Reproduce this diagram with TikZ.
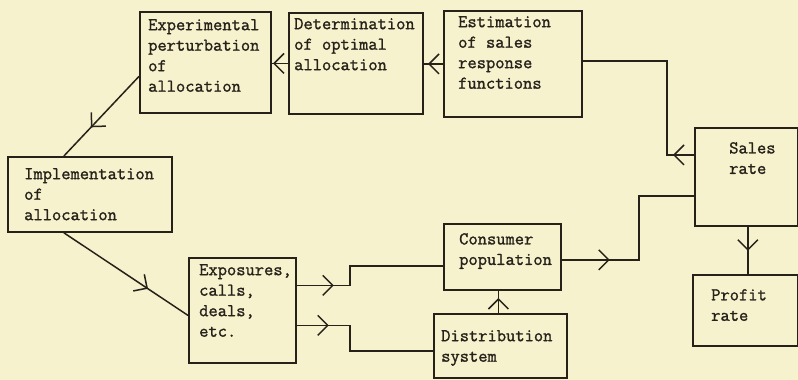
\documentclass[tikz,border=0pt]{standalone}
\usepackage{fontspec}
\newfontfamily\typewr{Latin Modern Mono}[FakeBold=1.4]
\usetikzlibrary{arrows.meta,positioning,decorations.markings}
\definecolor{paper}{RGB}{246,242,206}
\definecolor{ink}{RGB}{38,34,26}
\begin{document}
\begin{tikzpicture}[
    x=1pt, y=-1pt,
    box/.style={draw=ink, line width=1.8pt, anchor=north west, inner sep=0pt},
    txt/.style={anchor=north west, align=left, inner sep=0pt, text=ink, font=\typewr\fontsize{18}{20.5}\selectfont},
    link/.style={draw=ink, line width=1.5pt, postaction={decorate, decoration={markings,
        mark=at position #1 with {\arrow{Straight Barb[length=10pt, width=20pt, line width=1.5pt]}}}}}
]
\useasboundingbox[fill=paper] (0,0) rectangle (798,380);
\node[box, minimum width=131pt, minimum height=101pt] (exper) at (139,11) {};
\node[box, minimum width=134pt, minimum height=101pt] (det) at (288,12) {};
\node[box, minimum width=138pt, minimum height=106pt] (est) at (443,10) {};
\node[box, minimum width=103pt, minimum height=98pt] (sales) at (694,127) {};
\node[box, minimum width=105pt, minimum height=71pt] (profit) at (692,274) {};
\node[box, minimum width=164pt, minimum height=75pt] (impl) at (7,156) {};
\node[box, minimum width=107pt, minimum height=105pt] (expo) at (188,257) {};
\node[box, minimum width=117pt, minimum height=66pt] (cons) at (443,223) {};
\node[box, minimum width=133pt, minimum height=64pt] (dist) at (433,313) {};
\node[txt, below right=8pt and 9pt of exper.north west] (exper-t) {Experimental\\perturbation\\of\\allocation};
\node[txt, below right=6pt and 6pt of det.north west] (det-t) {Determination\\of optimal\\allocation};
\node[txt, below right=6pt and 15pt of est.north west] (est-t) {Estimation\\of sales\\response\\functions};
\node[txt, below right=15pt and 35pt of sales.north west] (sales-t) {Sales\\rate};
\node[txt, below right=15pt and 19pt of profit.north west] (profit-t) {Profit\\rate};
\node[txt, below right=12pt and 17pt of impl.north west] (impl-t) {Implementation\\of\\allocation};
\node[txt, below right=7pt and 11pt of expo.north west] (expo-t) {Exposures,\\calls,\\deals,\\etc.};
\node[txt, below right=10pt and 16pt of cons.north west] (cons-t) {Consumer\\population};
\node[txt, below right=17pt and 8pt of dist.north west] (dist-t) {Distribution\\system};
\draw[link=15pt] (det.west) -- (det.west -| exper.east);
\draw[link=15pt] (est.west) -- (est.west -| det.east);
\draw[link=21pt] ([yshift=22pt]sales.west) -- ++(-27,0) |- ([yshift=3pt]est.east);
\draw[link=70pt] ([yshift=-14pt]exper.west) -- ([xshift=-26pt]impl.north);
\draw[link=101pt] ([xshift=-26pt]impl.south) -- ([yshift=-5pt]expo.west);
\draw[link=37pt] ([yshift=25pt]expo.east) -- ++(53,0) |- ([yshift=-9pt]cons.west);
\draw[link=32pt] ([yshift=-15pt]expo.east) -- ++(53,0) |- ([yshift=-5pt]dist.west);
\draw[link=15pt] ([xshift=-2pt]dist.north) -- ([xshift=-4pt]cons.south);
\draw[link=48pt] ([yshift=-3pt]cons.east) -- ++(77,0) |- ([yshift=-19pt]sales.west);
\draw[link=24pt] ([xshift=1.5pt]sales.south) -- ([xshift=1.5pt]sales.south |- profit.north);
\end{tikzpicture}
\end{document}
